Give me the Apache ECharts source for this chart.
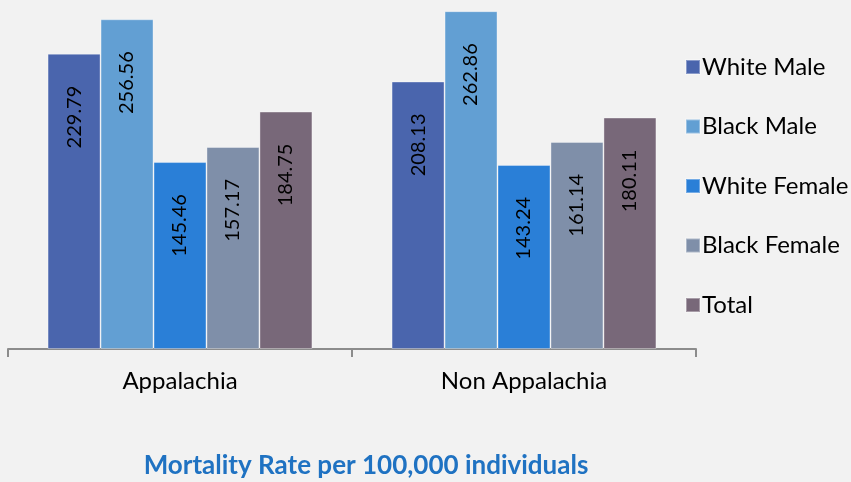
<!DOCTYPE html>
<html>
<head>
<meta charset="utf-8">
<script src="https://cdn.jsdelivr.net/npm/echarts@6/dist/echarts.min.js"></script>
<style>
  html, body { margin: 0; padding: 0; background: #f2f2f2; }
  #chart { width: 851px; height: 482px; }
</style>
</head>
<body>
<div id="chart"></div>
<script>
// regions on the x axis
var regions = ['Appalachia', 'Non Appalachia'];
// series names and colours
var groups = ['White Male', 'Black Male', 'White Female', 'Black Female', 'Total'];
var colors = ['#4a65ad', '#629fd3', '#2a7fd7', '#7f8fa9', '#786879'];
// mortality rate per group, Appalachia then Non Appalachia
var whiteMale = [229.79, 208.13];
var blackMale = [256.56, 262.86];
var whiteFemale = [145.46, 143.24];
var blackFemale = [157.17, 161.14];
var total = [184.75, 180.11];
var values = [whiteMale, blackMale, whiteFemale, blackFemale, total];

var chart = echarts.init(document.getElementById('chart'));

var series = [];
for (var i = 0; i < groups.length; i++) {
    series.push({
        name: groups[i],
        type: 'bar',
        data: values[i],
        barGap: '0%',
        barCategoryGap: '23%',
        itemStyle: {
            color: colors[i],
            borderColor: 'rgba(255,255,255,0.35)',
            borderWidth: 1
        },
        label: {
            show: true,
            position: 'insideTop',
            rotate: 90,
            align: 'right',
            verticalAlign: 'middle',
            distance: 32,
            color: '#000',
            fontFamily: 'Lato',
            fontSize: 20,
            formatter: function (p) {
                return p.value.toFixed(2);
            }
        }
    });
}

var option = {
    backgroundColor: '#f2f2f2',
    animation: false,
    title: {
        text: 'Mortality Rate per 100,000 individuals',
        left: 361,
        textAlign: 'center',
        top: 448,
        textStyle: {
            color: '#1f72c2',
            fontFamily: 'Lato',
            fontWeight: 'bold',
            fontSize: 26
        }
    },
    legend: {
        orient: 'vertical',
        left: 680,
        top: 50,
        itemWidth: 14,
        itemHeight: 14,
        itemGap: 35.5,
        icon: 'rect',
        textStyle: {
            color: '#000',
            fontFamily: 'Lato',
            fontSize: 24,
            lineHeight: 20,
            padding: [0, 0, 0, -3]
        },
        data: groups
    },
    grid: {
        left: 8,
        right: 155,
        top: 2,
        bottom: 133
    },
    xAxis: {
        type: 'category',
        data: regions,
        axisLine: { lineStyle: { color: '#8c8c8c', width: 2 } },
        axisTick: { show: true, length: 8, lineStyle: { color: '#8c8c8c', width: 2 } },
        axisLabel: {
            color: '#000',
            fontFamily: 'Lato',
            fontSize: 24,
            margin: 20
        }
    },
    yAxis: {
        type: 'value',
        min: 0,
        max: 270,
        show: false,
        splitLine: { show: false }
    },
    series: series
};

chart.setOption(option);
</script>
</body>
</html>
